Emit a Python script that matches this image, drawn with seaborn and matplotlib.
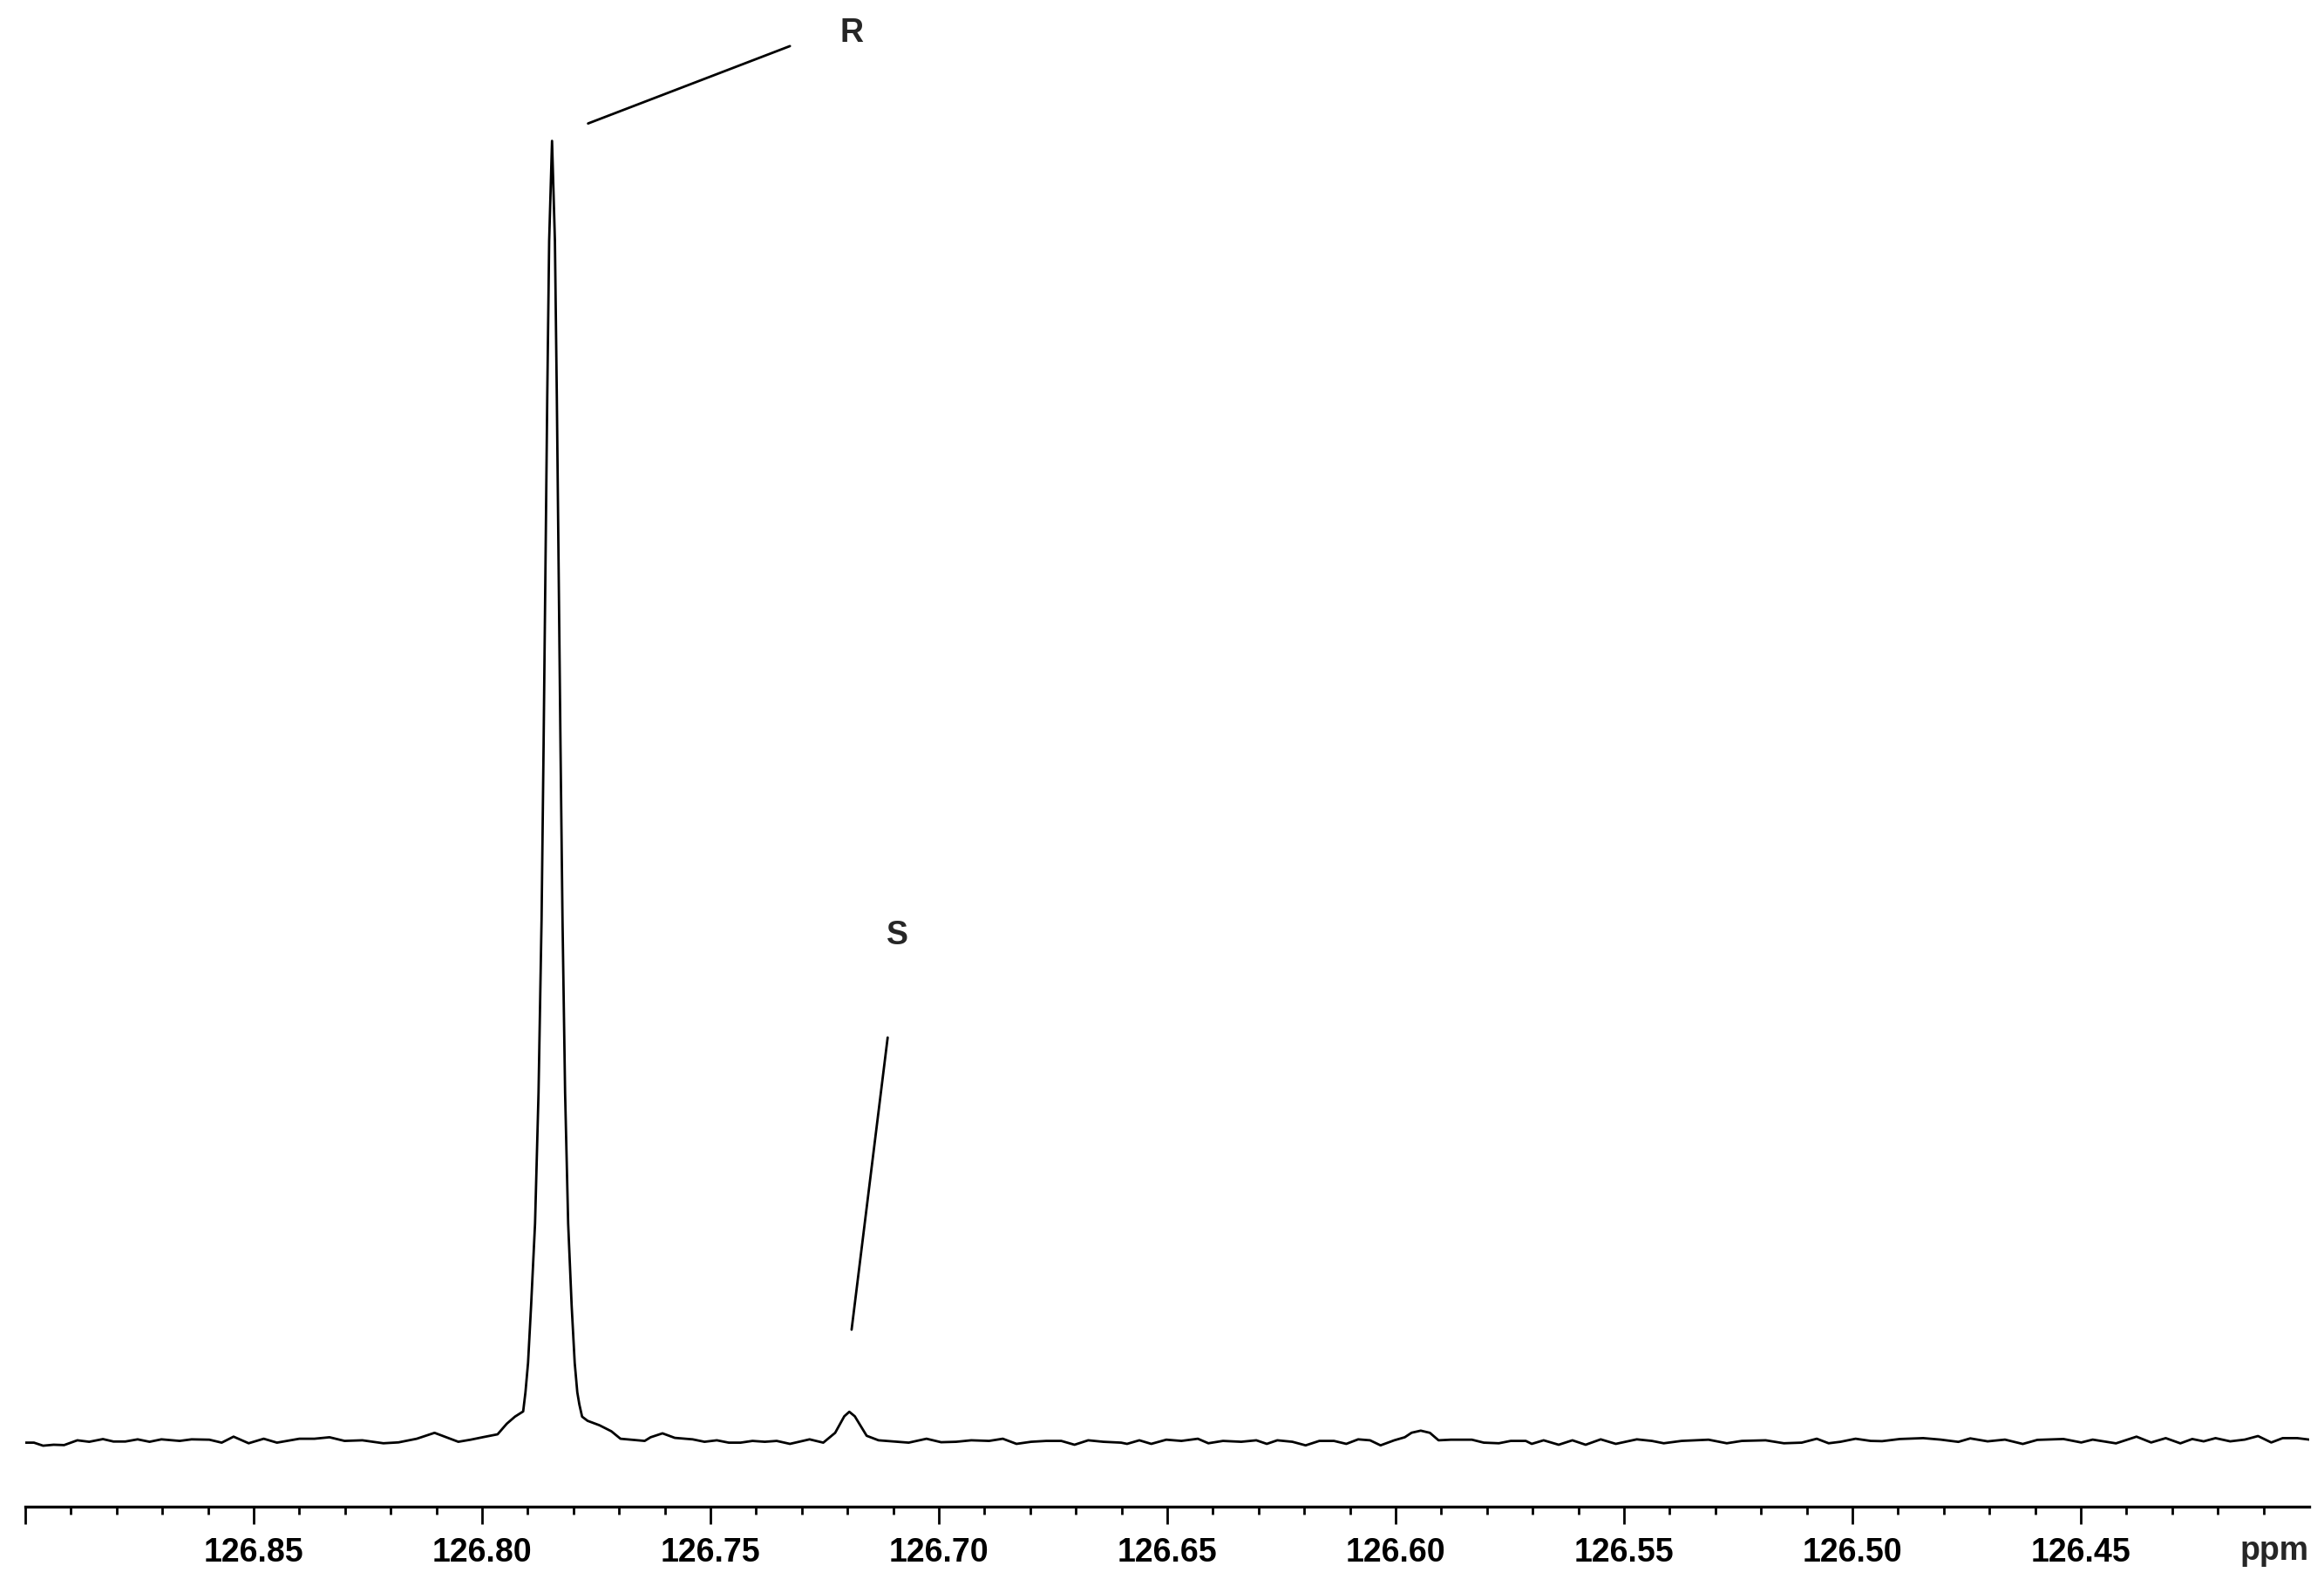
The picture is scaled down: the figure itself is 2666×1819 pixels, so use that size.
import numpy as np
import pandas as pd
import matplotlib
matplotlib.use("Agg")
import matplotlib.pyplot as plt
import seaborn as sns

# 13C spectrum trace (ppm, intensity in a.u.)
shift_ppm = [
    126.9000, 126.8981, 126.8961, 126.8938, 126.8915, 126.8886, 126.8860, 126.8830,
    126.8807, 126.8781, 126.8754, 126.8728, 126.8702, 126.8662, 126.8636, 126.8597,
    126.8570, 126.8544, 126.8511, 126.8478, 126.8449, 126.8400, 126.8367, 126.8334,
    126.8301, 126.8262, 126.8216, 126.8183, 126.8143, 126.8104, 126.8052, 126.8025,
    126.7999, 126.7966, 126.7946, 126.7928, 126.7910,
    # R peak
    126.79050, 126.78993, 126.78926, 126.78840, 126.78764, 126.78697, 126.78653,
    126.78613, 126.78573, 126.78531, 126.78468, 126.78405, 126.78363, 126.78323,
    126.78283, 126.78239, 126.78182, 126.78115, 126.78039, 126.77972, 126.77915,
    126.7787, 126.7781,
    126.7769, 126.7743, 126.7717, 126.7697, 126.7644, 126.7631, 126.7605, 126.7578,
    126.7539, 126.7513, 126.7486, 126.7460, 126.7434, 126.7408, 126.7381, 126.7355,
    126.7326, 126.7283, 126.7253, 126.7227, 126.7207, 126.7196, 126.7184, 126.7158,
    126.7132, 126.7092, 126.7066, 126.7027, 126.6995, 126.6962, 126.6929, 126.6890,
    126.6860, 126.6830, 126.6798, 126.6765, 126.6732, 126.6703, 126.6673, 126.6640,
    126.6601, 126.6588, 126.6561, 126.6535, 126.6502, 126.6469, 126.6433, 126.6410,
    126.6378, 126.6338, 126.6305, 126.6282, 126.6259, 126.6226, 126.6197, 126.6167,
    126.6135, 126.6108, 126.6082, 126.6056, 126.6033, 126.6003, 126.5980, 126.5965,
    126.5945, 126.5925, 126.5906, 126.5879, 126.5833, 126.5807, 126.5774, 126.5748,
    126.5715, 126.5702, 126.5676, 126.5643, 126.5613, 126.5584, 126.5551, 126.5518,
    126.5472, 126.5439, 126.5413, 126.5374, 126.5315, 126.5275, 126.5242, 126.5190,
    126.5150, 126.5111, 126.5078, 126.5052, 126.5026, 126.4993, 126.4960, 126.4935,
    126.4896, 126.4845, 126.4807, 126.4768, 126.4742, 126.4704, 126.4666, 126.4627,
    126.4595, 126.4538, 126.4499, 126.4474, 126.4423, 126.4378, 126.4346, 126.4314,
    126.4282, 126.4256, 126.4231, 126.4205, 126.4173, 126.4141, 126.4112, 126.4083,
    126.4058, 126.4026, 126.4000,
]
intensity = [
    -1.9, -1.9, -5.4, -4.3, -4.7, 0.8, -0.9, 2.2,
    -0.6, -0.6, 1.9, -0.9, 1.9, 0.1, 1.9, 1.5,
    -1.9, 5.0, -2.6, 2.6, -1.9, 2.6, 2.6, 4.3,
    0.1, 0.8, -2.6, -1.6, 2.6, 9.4, -0.9, 1.5,
    4.3, 7.7, 19.8, 28.0, 34.0,
    # R peak
    56.0, 90.0, 156.0, 250.0, 400.0, 600.0, 800.0,
    1000.0, 1200.0, 1380.0, 1495.0, 1380.0, 1200.0, 1000.0,
    800.0, 600.0, 400.0, 250.0, 156.0, 90.0, 56.0,
    42.0, 28.0,
    23.2, 18.1, 11.2, 2.6, 0.1, 4.3, 8.8, 3.6,
    1.9, -0.9, 0.8, -1.9, -1.9, 0.1, -0.9, 0.1,
    -3.3, 1.9, -1.9, 9.4, 28.4, 33.6, 28.4, 6.0,
    0.8, -0.9, -1.9, 2.6, -1.4, -0.9, 0.8, 0.1,
    2.6, -3.3, -0.9, 0.1, 0.1, -4.3, 0.8, -0.9,
    -1.9, -3.3, 0.8, -3.3, 1.5, 0.1, 2.6, -2.6,
    0.1, -0.9, 0.8, -3.3, 0.8, -0.9, -5.0, 0.1,
    0.1, -3.3, 1.9, 0.8, -5.0, 0.8, 4.3, 9.5,
    11.9, 9.4, 0.8, 1.5, 1.5, -1.9, -2.6, 0.1,
    0.1, -3.3, 0.8, -4.3, 0.8, -4.3, 1.9, -3.3,
    1.9, 0.1, -2.6, 0.1, 1.5, -2.6, 0.1, 0.8,
    -2.6, -1.9, 2.6, -2.6, -0.9, 2.6, 0.1, -0.2,
    2.3, 3.3, 1.6, -1.0, 3.0, -0.4, 1.6, -3.4,
    1.3, 2.3, -1.7, 1.6, -2.7, 5.0, -1.7, 3.3,
    -2.7, 2.3, -0.4, 3.3, -0.4, 1.6, 5.7, -1.7,
    3.3, 3.3, 1.6,
]

major_ticks = [126.90, 126.85, 126.80, 126.75, 126.70, 126.65, 126.60, 126.55, 126.50, 126.45]
major_labels = ["", "126.85", "126.80", "126.75", "126.70", "126.65", "126.60", "126.55", "126.50", "126.45"]

peak_labels = ["R", "S"]

df = pd.DataFrame({"ppm": shift_ppm, "intensity": intensity})

sns.set_style("white")
plt.rcParams["font.family"] = ["Liberation Sans", "DejaVu Sans"]

W, H = 2666, 1819
fig = plt.figure(figsize=(W / 100, H / 100), dpi=100)
ax = fig.add_axes([29 / W, 1 - 1727.5 / H, (2649 - 29) / W, 1727.5 / H])

sns.lineplot(data=df, x="ppm", y="intensity", ax=ax, color="black",
             linewidth=2.0, sort=False, estimator=None,
             solid_joinstyle="round", solid_capstyle="round")

ax.set_xlim(126.90, 126.40)
ax.set_ylim(-75, 1657)

# peak labels with leader lines
ax.plot([126.7768, 126.7326], [1515, 1604], color="black", lw=2.0)
ax.text(126.7190, 1619, peak_labels[0], ha="center", va="center",
        fontsize=27, fontweight="bold")
ax.plot([126.7112, 126.7191], [464, 128], color="black", lw=2.0)
ax.text(126.7090, 581, peak_labels[1], ha="center", va="center",
        fontsize=27, fontweight="bold")

for side in ["left", "top", "right"]:
    ax.spines[side].set_visible(False)
ax.spines["bottom"].set_linewidth(2.4)
ax.spines["bottom"].set_color("black")

ax.set_yticks([])
ax.set_xticks(major_ticks)
ax.set_xticklabels(major_labels)
minor = [round(126.41 + 0.01 * i, 2) for i in range(49)]
minor = [m for m in minor if all(abs(m - t) > 1e-6 for t in major_ticks)]
ax.set_xticks(minor, minor=True)
ax.tick_params(axis="x", which="major", direction="out", length=14.4, width=2.0,
               pad=11, labelsize=27, colors="black", bottom=True)
ax.tick_params(axis="x", which="minor", direction="out", length=6.5, width=2.0,
               colors="black", bottom=True)
for lab in ax.get_xticklabels():
    lab.set_fontweight("bold")
ax.set_xlabel("")
ax.set_ylabel("")

fig.text(2649 / W, 1 - 1789 / H, "ppm", ha="right", va="baseline",
         fontsize=27, fontweight="bold")

fig.savefig("out.png", dpi=100, facecolor="white")
